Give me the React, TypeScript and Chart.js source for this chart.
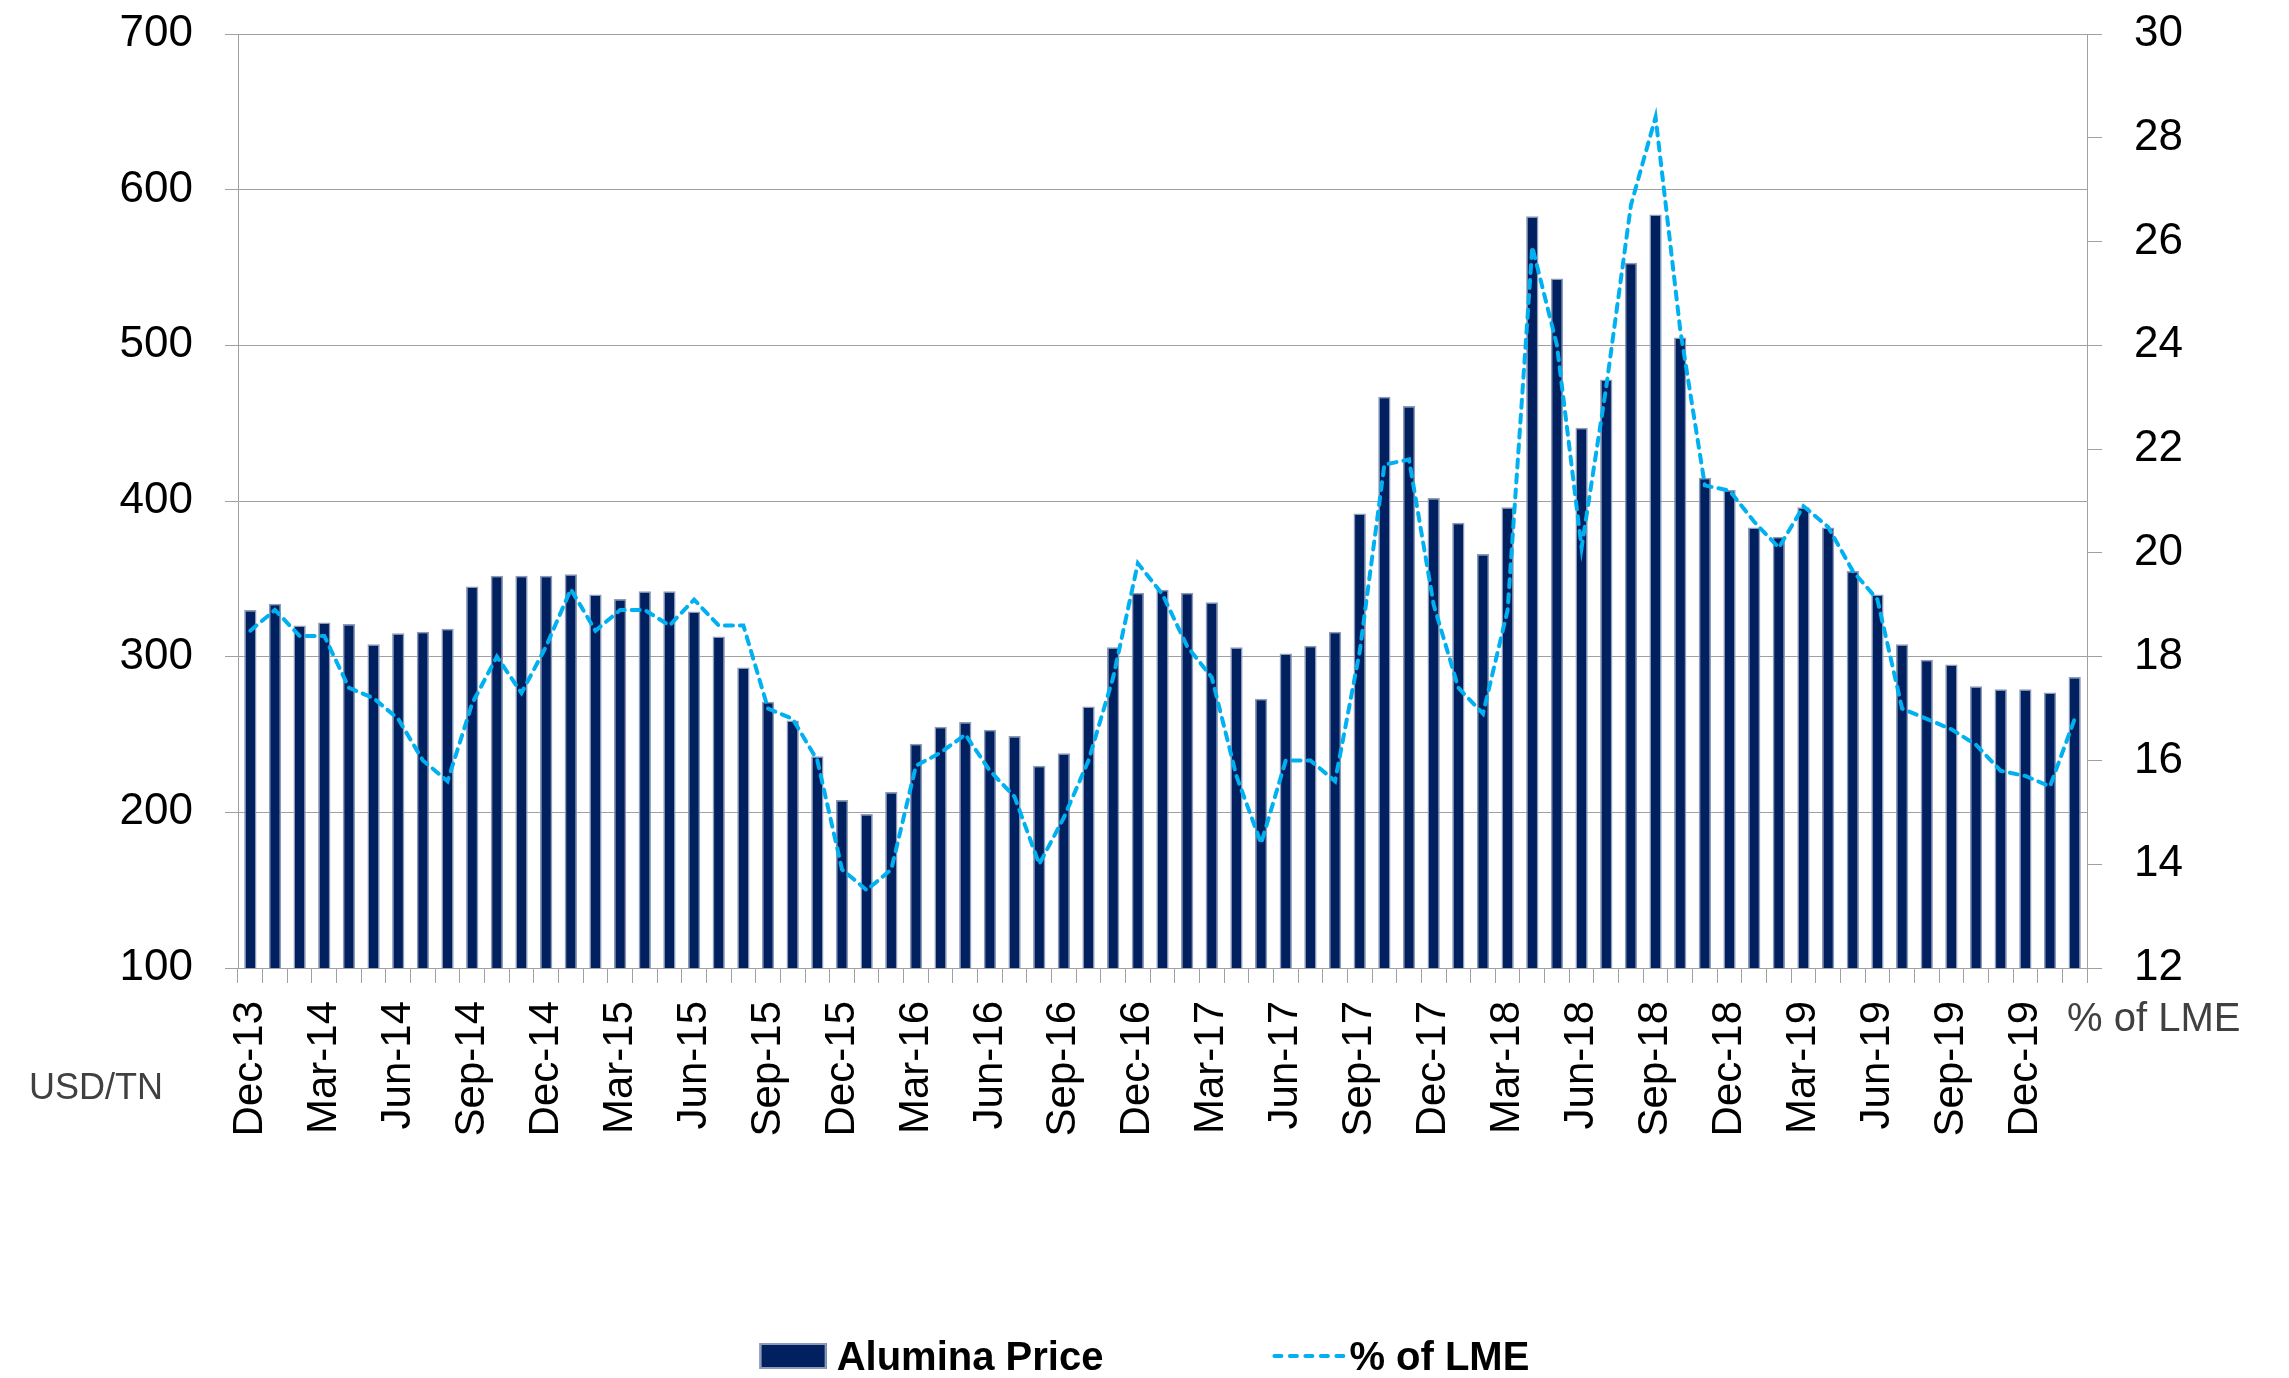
import React, { useEffect, useRef } from 'react';
import { Chart, registerables } from 'chart.js';

Chart.register(...registerables);

const categories = [
  'Dec-13',
  'Jan-14', 'Feb-14', 'Mar-14', 'Apr-14', 'May-14', 'Jun-14', 'Jul-14', 'Aug-14', 'Sep-14', 'Oct-14', 'Nov-14', 'Dec-14',
  'Jan-15', 'Feb-15', 'Mar-15', 'Apr-15', 'May-15', 'Jun-15', 'Jul-15', 'Aug-15', 'Sep-15', 'Oct-15', 'Nov-15', 'Dec-15',
  'Jan-16', 'Feb-16', 'Mar-16', 'Apr-16', 'May-16', 'Jun-16', 'Jul-16', 'Aug-16', 'Sep-16', 'Oct-16', 'Nov-16', 'Dec-16',
  'Jan-17', 'Feb-17', 'Mar-17', 'Apr-17', 'May-17', 'Jun-17', 'Jul-17', 'Aug-17', 'Sep-17', 'Oct-17', 'Nov-17', 'Dec-17',
  'Jan-18', 'Feb-18', 'Mar-18', 'Apr-18', 'May-18', 'Jun-18', 'Jul-18', 'Aug-18', 'Sep-18', 'Oct-18', 'Nov-18', 'Dec-18',
  'Jan-19', 'Feb-19', 'Mar-19', 'Apr-19', 'May-19', 'Jun-19', 'Jul-19', 'Aug-19', 'Sep-19', 'Oct-19', 'Nov-19', 'Dec-19',
  'Jan-20', 'Feb-20',
];

// USD/TN
const aluminaPrice = [
  330,
  334, 320, 322, 321, 308, 315, 316, 318, 345, 352, 352, 352,
  353, 340, 337, 342, 342, 329, 313, 293, 271, 259, 236, 208,
  199, 213, 244, 255, 258, 253, 249, 230, 238, 268, 306, 341,
  343, 341, 335, 306, 273, 302, 307, 316, 392, 467, 461, 402,
  386, 366, 396, 583, 543, 447, 478, 553, 584, 505, 415, 407,
  383, 377, 396, 383, 355, 340, 308, 298, 295, 281, 279, 279,
  277, 287,
];

// % of LME
const pctOfLme = [
  18.5,
  18.9, 18.4, 18.4, 17.4, 17.2, 16.8, 16.0, 15.6, 17.1, 18.0, 17.3, 18.2,
  19.3, 18.5, 18.9, 18.9, 18.6, 19.1, 18.6, 18.6, 17.0, 16.8, 16.0, 13.9,
  13.5, 13.9, 15.9, 16.15, 16.5, 15.8, 15.3, 14.0, 14.9, 16.0, 17.6, 19.8,
  19.2, 18.2, 17.6, 15.7, 14.4, 16.0, 16.0, 15.6, 18.1, 21.7, 21.8, 19.0,
  17.4, 16.9, 18.9, 25.9, 24.0, 20.1, 23.2, 26.7, 28.4, 24.3, 21.3, 21.2,
  20.6, 20.1, 20.9, 20.5, 19.65, 19.1, 17.0, 16.8, 16.6, 16.3, 15.8, 15.7,
  15.5, 16.8,
];

const leftAxis = { min: 100, max: 700, step: 100 };
const rightAxis = { min: 12, max: 30, step: 2 };
const leftUnit = 'USD/TN';
const rightUnit = '% of LME';

const FONT = '"Liberation Sans", Arial, sans-serif';
const GRID = '#a0a0a0';
const BAR_FILL = '#002060';
const BAR_EDGE = '#8e9bb8';
const LINE_COLOR = '#00b0f0';

const extrasPlugin = {
  id: 'extras',
  afterDraw(chart: any) {
    const { ctx, chartArea } = chart;
    ctx.save();
    // unit labels
    ctx.fillStyle = '#404040';
    ctx.textAlign = 'left';
    ctx.textBaseline = 'alphabetic';
    ctx.font = `36px ${FONT}`;
    ctx.fillText(leftUnit, 21, chartArea.bottom + 131);
    ctx.font = `40px ${FONT}`;
    ctx.fillText(rightUnit, chartArea.right - 20, chartArea.bottom + 63);

    // legend
    const ds = chart.data.datasets;
    ctx.font = `bold 40px ${FONT}`;
    const w1 = ctx.measureText(ds[0].label).width;
    const w2 = ctx.measureText(ds[1].label).width;
    const boxW = 67, boxH = 26, lineW = 72;
    const total = boxW + 10 + w1 + 169 + lineW + 5 + w2;
    let x = chart.width / 2 - total / 2;
    const baseline = 1362;
    ctx.fillStyle = ds[0].backgroundColor;
    ctx.fillRect(x, baseline - boxH - 1, boxW, boxH);
    ctx.strokeStyle = ds[0].borderColor;
    ctx.lineWidth = 2;
    ctx.strokeRect(x + 1, baseline - boxH, boxW - 2, boxH - 2);
    x += boxW + 10;
    ctx.fillStyle = '#000';
    ctx.fillText(ds[0].label, x, baseline);
    x += w1 + 169;
    ctx.strokeStyle = ds[1].borderColor;
    ctx.lineWidth = 4;
    ctx.lineCap = 'round';
    ctx.setLineDash([7, 8.5]);
    ctx.beginPath();
    ctx.moveTo(x + 2, baseline - 14);
    ctx.lineTo(x + lineW, baseline - 14);
    ctx.stroke();
    ctx.setLineDash([]);
    x += lineW + 5;
    ctx.fillText(ds[1].label, x, baseline);
    ctx.restore();
  },
};

export default function App() {
  const canvasRef = useRef<HTMLCanvasElement | null>(null);

  useEffect(() => {
    if (!canvasRef.current) return;
    const chart = new Chart(canvasRef.current, {
      type: 'bar',
      data: {
        labels: categories,
        datasets: [
          {
            type: 'bar',
            label: 'Alumina Price',
            data: aluminaPrice,
            yAxisID: 'y',
            backgroundColor: BAR_FILL,
            borderColor: BAR_EDGE,
            borderWidth: 1.5,
            categoryPercentage: 1,
            barPercentage: 0.5,
            order: 2,
          } as any,
          {
            type: 'line',
            label: '% of LME',
            data: pctOfLme,
            yAxisID: 'y1',
            borderColor: LINE_COLOR,
            backgroundColor: LINE_COLOR,
            borderWidth: 4,
            borderDash: [8, 7],
            borderCapStyle: 'round',
            pointRadius: 0,
            tension: 0,
            fill: false,
            order: 1,
          } as any,
        ],
      },
      options: {
        responsive: true,
        maintainAspectRatio: false,
        animation: false,
        layout: { padding: { top: 0, left: 0, right: 0, bottom: 0 } },
        plugins: {
          legend: { display: false },
          tooltip: { enabled: false },
        },
        scales: {
          x: {
            type: 'category',
            offset: true,
            grid: {
              display: true,
              drawOnChartArea: false,
              drawTicks: true,
              tickLength: 15,
              color: GRID,
              offset: true,
            },
            border: { display: true, color: GRID, width: 1 },
            ticks: {
              autoSkip: false,
              maxRotation: 90,
              minRotation: 90,
              padding: 18,
              color: '#000',
              font: { family: FONT, size: 42 },
              callback: (_v: any, i: number) => (i % 3 === 0 ? categories[i] : ''),
            },
            afterFit: (s: any) => {
              s.height = 402;
            },
          } as any,
          y: {
            position: 'left',
            min: leftAxis.min,
            max: leftAxis.max,
            ticks: {
              stepSize: leftAxis.step,
              padding: 32,
              color: '#000',
              font: { family: FONT, size: 44 },
            },
            grid: { color: GRID, lineWidth: 1, tickLength: 13 },
            border: { display: true, color: GRID, width: 1 },
            afterFit: (s: any) => {
              s.width = 230;
              s.paddingTop = 26;
            },
          } as any,
          y1: {
            position: 'right',
            min: rightAxis.min,
            max: rightAxis.max,
            ticks: {
              stepSize: rightAxis.step,
              padding: 32,
              color: '#000',
              font: { family: FONT, size: 44 },
            },
            grid: { drawOnChartArea: false, color: GRID, tickLength: 15 },
            border: { display: true, color: GRID, width: 1 },
            afterFit: (s: any) => {
              s.width = 194;
              s.paddingTop = 26;
            },
          } as any,
        },
      },
      plugins: [extrasPlugin],
    });
    return () => chart.destroy();
  }, []);

  return (
    <div style={{ position: 'relative', width: '100%', height: 1362 }}>
      <canvas ref={canvasRef} />
    </div>
  );
}
